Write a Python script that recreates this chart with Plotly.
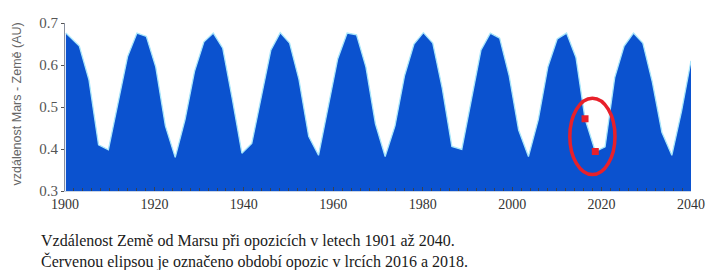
import plotly.graph_objects as go

# Opposition epochs (decimal years) and Earth–Mars distance (AU)
years = [1900.2, 1903.2, 1905.35, 1907.5, 1909.7, 1911.9, 1914.0, 1916.1, 1918.2, 1920.3,
         1922.45, 1924.65, 1926.85, 1928.97, 1931.07, 1933.17, 1935.27, 1937.4, 1939.56, 1941.77,
         1943.93, 1946.03, 1948.13, 1950.23, 1952.33, 1954.5, 1956.7, 1958.88, 1961.0, 1963.1,
         1965.2, 1967.3, 1969.42, 1971.6, 1973.8, 1975.95, 1978.05, 1980.15, 1982.25, 1984.36,
         1986.52, 1988.74, 1990.9, 1993.02, 1995.12, 1997.21, 1999.32, 2001.45, 2003.65, 2005.85,
         2007.98, 2010.08, 2012.17, 2014.27, 2016.3, 2018.6, 2020.78, 2022.94, 2025.04, 2027.14,
         2029.23, 2031.34, 2033.49, 2035.71, 2037.89, 2040.0]
distance = [0.676, 0.645, 0.565, 0.41, 0.398, 0.51, 0.62, 0.676, 0.668, 0.595,
            0.455, 0.38, 0.47, 0.585, 0.655, 0.676, 0.64, 0.52, 0.39, 0.413,
            0.53, 0.635, 0.677, 0.652, 0.565, 0.43, 0.385, 0.50, 0.615, 0.676,
            0.672, 0.595, 0.46, 0.382, 0.455, 0.575, 0.65, 0.677, 0.652, 0.545,
            0.406, 0.399, 0.515, 0.635, 0.676, 0.664, 0.575, 0.445, 0.382, 0.47,
            0.595, 0.662, 0.676, 0.618, 0.472, 0.394, 0.405, 0.57, 0.645, 0.676,
            0.652, 0.56, 0.44, 0.385, 0.49, 0.61]
highlight_years = [2016.3, 2018.6]
highlight_dist = [distance[years.index(y)] for y in highlight_years]

x_ticks = [1900, 1920, 1940, 1960, 1980, 2000, 2020, 2040]
y_ticks = [0.3, 0.4, 0.5, 0.6, 0.7]

y_title = "vzdálenost Mars - Země (AU)"
caption1 = "Vzdálenost Země od Marsu při opozicích v letech 1901 až 2040."
caption2 = "Červenou elipsou je označeno období opozic v lrcích 2016 a 2018."

SERIF = "Liberation Serif, Times New Roman, DejaVu Serif, serif"
SANS = "Liberation Sans, Arial, sans-serif"

W, H = 711, 270
ML, MR, MT, MB = 65, 20, 22.5, 78.5
PW, PH = W - ML - MR, H - MT - MB

fig = go.Figure()
fig.add_trace(go.Scatter(
    x=years, y=distance, mode="lines", fill="tozeroy",
    fillcolor="#0b52cf", line=dict(color="#a8e6fb", width=1.3),
    hoverinfo="skip", showlegend=False))
fig.add_trace(go.Scatter(
    x=highlight_years, y=highlight_dist, mode="markers",
    marker=dict(symbol="square", size=7, color="#e8202a"),
    hoverinfo="skip", showlegend=False))

# red ellipse around the 2016/2018 period
ell_cx, ell_hw = 2017.95, 5.05
ell_cy, ell_hh = 0.43, 0.091
fig.add_shape(type="circle", xref="x", yref="y",
              x0=ell_cx - ell_hw, x1=ell_cx + ell_hw,
              y0=ell_cy - ell_hh, y1=ell_cy + ell_hh,
              line=dict(color="#e8202a", width=3.5))

def px_x(px):
    return (px - ML) / PW

def px_y(py):
    return (H - MB - py) / PH

fig.add_annotation(text=y_title, xref="paper", yref="paper", x=px_x(17.5), y=px_y(104),
                   textangle=-90, showarrow=False, xanchor="center", yanchor="middle",
                   font=dict(family=SANS, size=12.5, color="#666666"))
fig.add_annotation(text=caption1, xref="paper", yref="paper", x=px_x(39), y=px_y(242),
                   showarrow=False, xanchor="left", yanchor="middle",
                   font=dict(family=SERIF, size=16, color="#1a1a1a"))
fig.add_annotation(text=caption2, xref="paper", yref="paper", x=px_x(39), y=px_y(262),
                   showarrow=False, xanchor="left", yanchor="middle",
                   font=dict(family=SERIF, size=16, color="#1a1a1a"))

fig.update_layout(
    width=W, height=H, margin=dict(l=ML, r=MR, t=MT, b=MB, pad=0, autoexpand=False),
    paper_bgcolor="white", plot_bgcolor="white",
    xaxis=dict(range=[1900, 2040], tickvals=x_ticks, ticks="inside", ticklen=4,
               tickcolor="#3a4250", showgrid=False, zeroline=False, automargin=False,
               showline=True, linecolor="#c8d4e6", linewidth=1,
               minor=dict(dtick=2, ticks="inside", ticklen=3, tickcolor="#3a4250", showgrid=False),
               tickfont=dict(family=SERIF, size=14, color="#333"),
               fixedrange=True),
    yaxis=dict(range=[0.3, 0.7], tickvals=y_ticks, tickformat=".1f", ticks="outside",
               ticklen=3, tickcolor="#555", showgrid=False, zeroline=False, automargin=False,
               showline=True, linecolor="#8890a0", linewidth=1,
               tickfont=dict(family=SERIF, size=15, color="#555"),
               fixedrange=True),
)

fig.write_html("out.html", config={"displayModeBar": False},
               post_script="document.body.style.margin='0';document.body.style.overflow='hidden';")
